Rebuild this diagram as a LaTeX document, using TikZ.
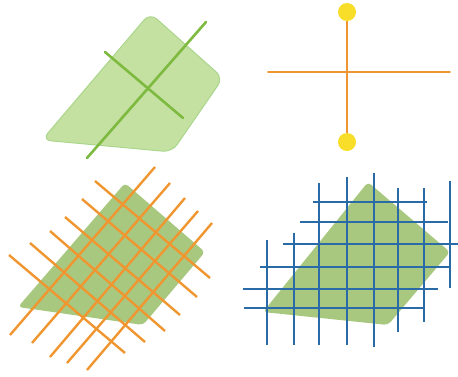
\documentclass[tikz,border=0pt]{standalone}
\begin{document}
\begin{tikzpicture}[x=1pt,y=-1pt,
  lightfill/.style={fill=lgreen,draw=lgreenb,line width=1pt,rounded corners=9pt},
  darkfill/.style={fill=dgreen,rounded corners=4pt},
  gline/.style={draw=ggreen,line width=2.6pt,line cap=round},
  oline/.style={draw=orng,line width=1.6pt,line cap=round},
  ogrid/.style={draw=orng,line width=2.4pt},
  bgrid/.style={draw=blu,line width=2.4pt},
  dot/.style={circle,fill=yel,minimum size=18pt,inner sep=0pt}]
\definecolor{lgreen}{RGB}{196,225,162}
\definecolor{lgreenb}{RGB}{170,214,140}
\definecolor{dgreen}{RGB}{168,200,128}
\definecolor{ggreen}{RGB}{125,186,63}
\definecolor{orng}{RGB}{240,150,48}
\definecolor{blu}{RGB}{42,106,166}
\definecolor{yel}{RGB}{248,222,40}
\useasboundingbox (0,0) rectangle (458,376);
% top-left
\path[lightfill] (150,13) -- (223,78) -- (172,152) -- (42,140) -- cycle;
\draw[gline] (206,22) -- (87,158);
\draw[gline] (105,52) -- (183,118);
% top-right
\draw[oline] (268,72) -- (450,72);
\draw[orng,line width=1.3pt] (347,20) -- (347,134);
\node[dot] (t) at (347,12) {};
\node[dot] (b) at (347,142) {};
% bottom-left
\path[darkfill] (125,183) -- (205,252) -- (143,325) -- (18,307) -- cycle;
\foreach \a/\b/\c/\d in {10/335/155/167, 32/343/170/183, 50/357/185/198, 67/363/198/211, 87/370/212/223,
  9/255/125/353, 30/243/145/342, 50/231/165/331, 65/217/180/315, 82/199/197/297, 95/181/210/278}
  \draw[ogrid] (\a,\b) -- (\c,\d);
% bottom-right
\path[darkfill] (368,182) -- (450,252) -- (388,325) -- (263,312) -- cycle;
\foreach \x/\t/\bb in {267/240/345, 294/233/345, 319/183/345, 347/177/345, 374/173/347, 398/188/332, 424/188/322, 450/181/288}
  \draw[bgrid] (\x,\t) -- (\x,\bb);
\foreach \y/\l/\r in {202/313/427, 222/300/448, 244/283/458, 267/260/450, 289/243/438, 308/244/424}
  \draw[bgrid] (\l,\y) -- (\r,\y);
\end{tikzpicture}
\end{document}
